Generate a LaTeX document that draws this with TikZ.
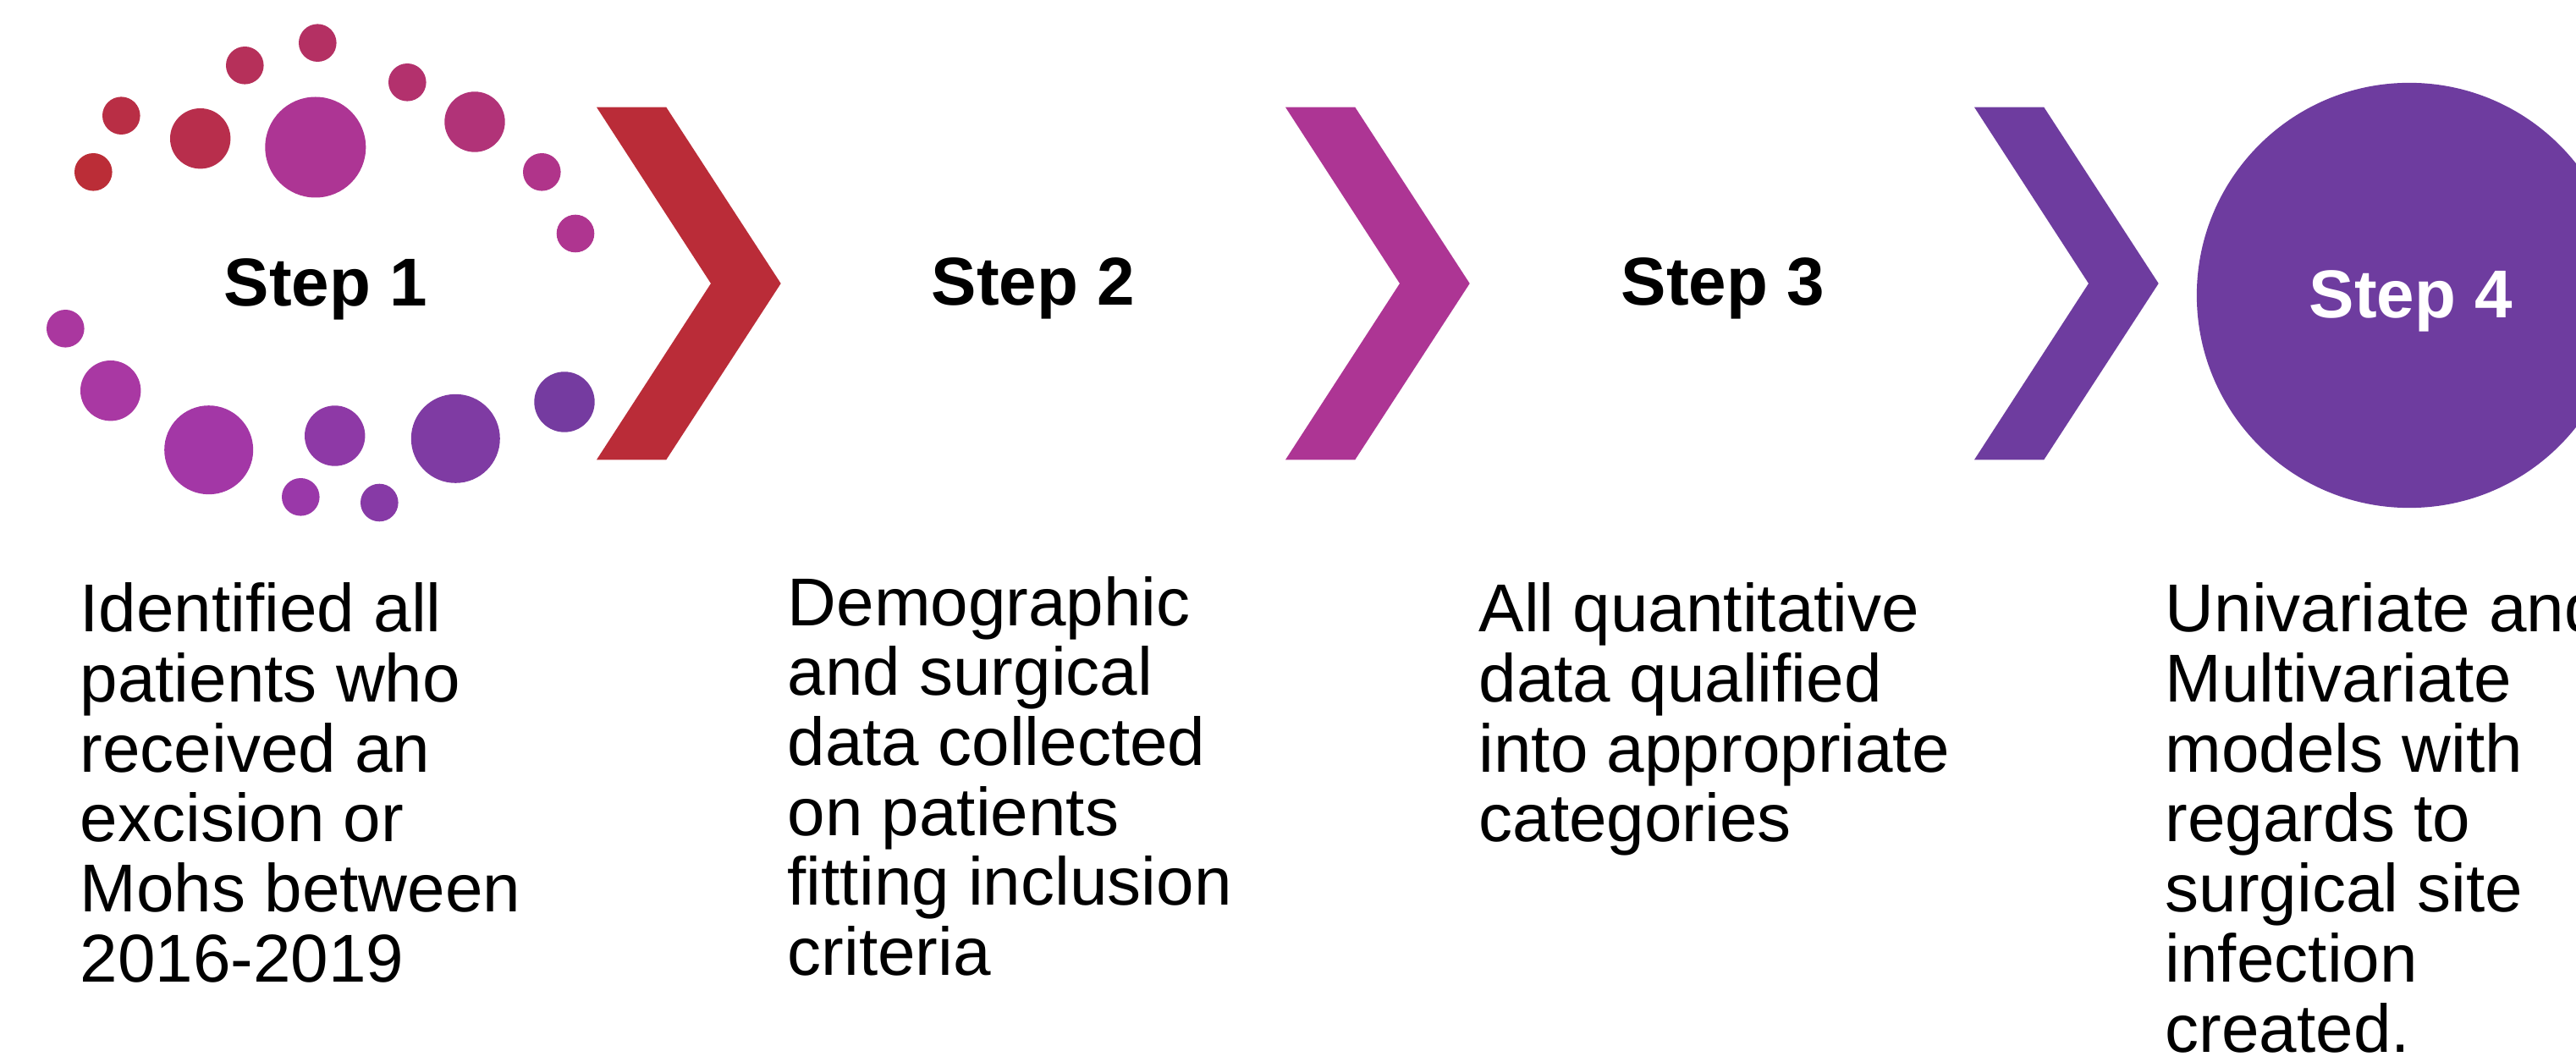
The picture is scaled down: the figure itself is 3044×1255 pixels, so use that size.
\documentclass[tikz,border=0pt]{standalone}
\usepackage{fontspec}
\setmainfont{Liberation Sans}

% palette: red -> magenta -> violet
\definecolor{cRed}{HTML}{BA2C38}
\definecolor{cMag}{HTML}{AD3594}
\definecolor{cVio}{HTML}{6E3C9F}

\newcommand\stepfont{\fontsize{22.76pt}{27pt}\selectfont\bfseries}
\newcommand\bodyfont{\fontsize{22.76pt}{23.53pt}\selectfont}
\newcommand\bodytext[1]{\parbox[t]{8cm}{\raggedright\bodyfont #1}}

\begin{document}
\begin{tikzpicture}[x=0.01cm,y=-0.01cm,
  steplabel/.style={anchor=base,inner sep=0pt,font=\stepfont},
  bodynode/.style={anchor=base west,inner sep=0pt},
  dotsm/.style={radius=22.3},
  dotmd/.style={radius=35.7},
  dotlg/.style={radius=52.5}]

\useasboundingbox (0,0) rectangle (3044,1255);
\begin{scope}
\clip (0,0) rectangle (3044,1255);

% ring of dots around the first step
\fill[color={rgb,255:red,187;green,45;blue,55}]  (110.3,203.3) circle[dotsm];
\fill[color={rgb,255:red,185;green,46;blue,69}]  (143.3,136.7) circle[dotsm];
\fill[color={rgb,255:red,184;green,46;blue,76}]  (236.7,163.7) circle[dotmd];
\fill[color={rgb,255:red,182;green,48;blue,90}]  (289.3,77.3)  circle[dotsm];
\fill[color={rgb,255:red,180;green,48;blue,99}]  (375.3,50.7)  circle[dotsm];
\fill[cMag]                                      (372.8,174)   circle[radius=59.5];
\fill[color={rgb,255:red,179;green,49;blue,109}] (481.3,97.3)  circle[dotsm];
\fill[color={rgb,255:red,177;green,51;blue,120}] (561,144)     circle[dotmd];
\fill[color={rgb,255:red,176;green,52;blue,138}] (640.3,203.3) circle[dotsm];
\fill[color={rgb,255:red,175;green,53;blue,144}] (680,276)     circle[dotsm];
\fill[color={rgb,255:red,170;green,55;blue,159}] (77.3,388.3)  circle[dotsm];
\fill[color={rgb,255:red,169;green,56;blue,163}] (130.7,461.7) circle[dotmd];
\fill[color={rgb,255:red,163;green,55;blue,166}] (246.7,531.7) circle[dotlg];
\fill[color={rgb,255:red,154;green,56;blue,169}] (355.3,587.3) circle[dotsm];
\fill[color={rgb,255:red,142;green,57;blue,166}] (395.7,515)   circle[dotmd];
\fill[color={rgb,255:red,135;green,58;blue,166}] (448.3,594)   circle[dotsm];
\fill[color={rgb,255:red,127;green,59;blue,163}] (538.3,518.3) circle[dotlg];
\fill[color={rgb,255:red,117;green,59;blue,160}] (667,475)     circle[dotmd];

% chevrons between the steps
\foreach \dx/\col in {0/cRed,814/cMag,1628/cVio}
  \fill[\col, shift={(\dx,0)}] (705,126.7) -- (787.3,126.7) -- (922.7,335)
        -- (787.3,543.3) -- (705,543.3) -- (840,335) -- cycle;

% final step disc
\node (disc4) [circle, fill=cVio, inner sep=0pt, minimum size=5.02cm] at (2847,349) {};

% step titles
\node (s1) [steplabel] at (385,362) {Step 1};
\node (s2) [steplabel] at (1221,361) {Step 2};
\node (s3) [steplabel] at (2036,361) {Step 3};
\node (s4) [steplabel, text=white] at (2849,376) {Step 4};

% descriptions
\node (d1) [bodynode] at (94,746.7) {\bodytext{Identified all\\patients who\\received an\\excision or\\Mohs between\\2016-2019}};
\node (d2) [bodynode] at (930,739) {\bodytext{Demographic\\and surgical\\data collected\\on patients\\fitting inclusion\\criteria}};
\node (d3) [bodynode] at (1747,746.7) {\bodytext{All quantitative\\data qualified\\into appropriate\\categories}};
\node (d4) [bodynode] at (2558,746.7) {\bodytext{Univariate and\\Multivariate\\models with\\regards to\\surgical site\\infection\\created.}};
\end{scope}
\end{tikzpicture}
\end{document}
